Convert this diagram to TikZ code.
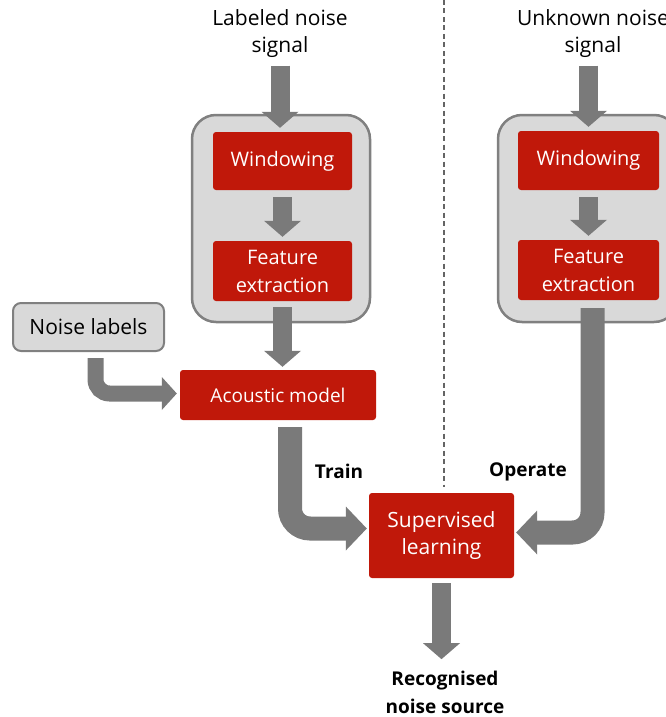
\documentclass[tikz,border=0pt]{standalone}
\usepackage{fontspec}
\setmainfont{Open Sans}
\usetikzlibrary{arrows.meta,positioning}

\definecolor{boxred}{RGB}{192,24,10}
\definecolor{flowgray}{RGB}{122,122,122}
\definecolor{panelfill}{RGB}{217,217,217}
\definecolor{panelline}{RGB}{128,128,128}
\definecolor{divline}{RGB}{100,100,100}

\begin{document}
\begin{tikzpicture}[
  x=1pt, y=-1pt,
  redbox/.style={rectangle, fill=boxred, rounded corners=3pt, text=white, align=center, inner sep=0pt, font=\fontsize{20}{28}\selectfont},
  panel/.style={rectangle, draw=panelline, fill=panelfill, line width=2.5pt, rounded corners=24pt, inner sep=0pt},
  graybox/.style={rectangle, draw=panelline, fill=panelfill, line width=2pt, rounded corners=8pt, inner sep=0pt, font=\fontsize{21}{27}\selectfont},
  caption/.style={align=center, font=\fontsize{21}{27}\selectfont},
  phase/.style={align=center, font=\bfseries\fontsize{19}{28}\selectfont},
  flow/.style={draw=flowgray, line width=19pt, -{Triangle[width=37pt,length=16pt,line width=0pt]}},
  thinflow/.style={flow, line width=16pt, -{Triangle[width=33pt,length=15pt,line width=0pt]}, rounded corners=14pt},
  bigflow/.style={flow, line width=24pt, -{Triangle[width=44pt,length=21pt,line width=0pt]}, rounded corners=20pt},
  divider/.style={draw=divline, line width=1.3pt, dash pattern=on 5pt off 3.5pt}
]
\useasboundingbox (0,0) rectangle (666,717);

% training / operating split
\coordinate (divtop) at (444,0);
\coordinate (divbot) at (444,487);
\draw[divider] (divtop) -- (divbot);

% inputs
\node[caption] (lsig) at (280,34) {Labeled noise\\signal};
\node[caption] (rsig) at (593,34) {Unknown noise\\signal};

% front ends
\node[panel, minimum width=178pt, minimum height=207pt] (lpanel) at (281,218.5) {};
\node[panel, minimum width=180pt, minimum height=207pt] (rpanel) at (588,218.5) {};
\node[redbox, minimum width=139pt, minimum height=58pt] (lwin) at (282.5,161) {Windowing};
\node[redbox, minimum width=139pt, minimum height=60pt] (lfeat) at (282.5,271) {Feature\\extraction};
\node[redbox, minimum width=141pt, minimum height=59pt] (rwin) at (588.5,160.5) {Windowing};
\node[redbox, minimum width=141pt, minimum height=60pt] (rfeat) at (588.5,270) {Feature\\extraction};

% model and classifier
\node[graybox, minimum width=151pt, minimum height=48pt] (noise) at (88.5,327) {Noise labels};
\node[redbox, minimum width=196pt, minimum height=50pt, font=\fontsize{19}{27}\selectfont] (acoustic) at (278,395) {Acoustic model};
\node[redbox, minimum width=145pt, minimum height=85pt, font=\fontsize{21}{27}\selectfont] (superv) at (441.5,535.5) {Supervised\\learning};

\node[phase] (train) at (339,471) {Train};
\node[phase] (operate) at (528,472) {Operate};
\node[phase] (recog) at (445,692) {Recognised\\noise source};

\draw[flow] ([yshift=-4pt]lsig.south) -- ([yshift=4pt]lsig.south |- lwin.north);
\draw[flow] ([yshift=-4pt]rsig.south -| rwin.north) -- ([yshift=4pt]rwin.north);
\draw[flow] ([yshift=-7pt]lwin.south) -- ([yshift=4pt]lfeat.north);
\draw[flow] ([yshift=-7pt]rwin.south) -- ([yshift=4pt]rfeat.north);
\draw[flow] ([yshift=-6pt]lfeat.south) -- ([yshift=3pt]lfeat.south |- acoustic.north);
\draw[thinflow] ([xshift=7pt,yshift=-6pt]noise.south) |- ([xshift=-3pt,yshift=1.5pt]acoustic.west);
\draw[bigflow] ([xshift=12pt,yshift=-7pt]acoustic.south) |- ([xshift=-2pt,yshift=7pt]superv.west);
\draw[bigflow] ([xshift=4pt,yshift=-8pt]rfeat.south) |- ([xshift=2pt,yshift=3pt]superv.east);
\draw[flow] ([yshift=-5pt]superv.south) -- ([yshift=8pt]superv.south |- recog.north);

\end{tikzpicture}
\end{document}
